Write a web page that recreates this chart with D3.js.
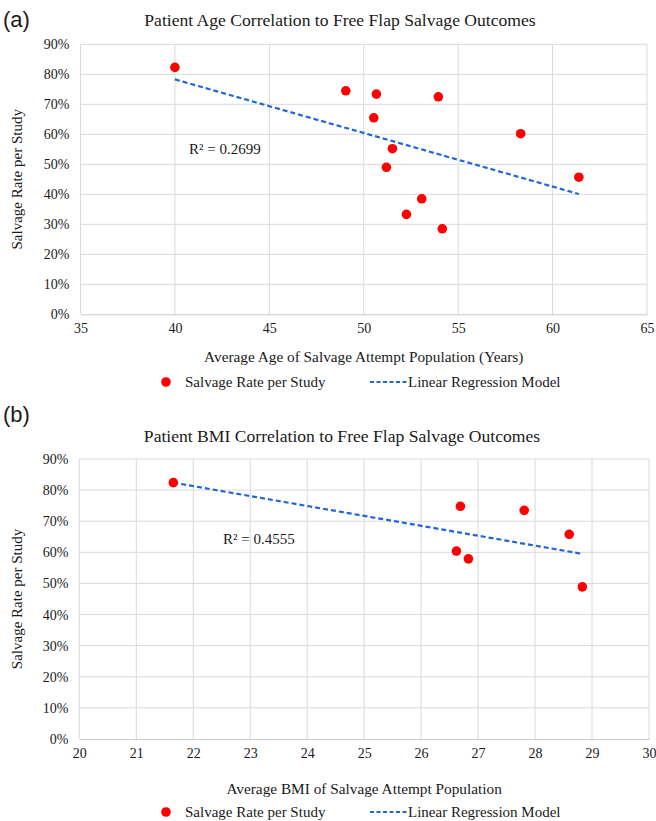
<!DOCTYPE html>
<html>
<head>
<meta charset="utf-8">
<script src="https://cdn.jsdelivr.net/npm/d3@7"></script>
<style>
  html, body { margin: 0; padding: 0; background: #fff; }
  svg { display: block; }
</style>
</head>
<body>
<svg id="chart" width="656" height="821"></svg>
<script>
// ---- Data ----
const yTicks = [0, 0.1, 0.2, 0.3, 0.4, 0.5, 0.6, 0.7, 0.8, 0.9];

const ageTicks = [35, 40, 45, 50, 55, 60, 65];
const ageX = [40.0, 49.05, 50.67, 53.95, 50.53, 51.52, 51.2, 53.07, 52.26, 54.16, 58.31, 61.39];
const ageY = [0.823, 0.745, 0.734, 0.725, 0.655, 0.552, 0.490, 0.385, 0.333, 0.285, 0.602, 0.457];
const ageTrendX = [40.0, 61.39];
const ageTrendY = [0.783, 0.401];
const ageR2 = "R² = 0.2699";

const bmiTicks = [20, 21, 22, 23, 24, 25, 26, 27, 28, 29, 30];
const bmiX = [21.65, 26.69, 27.81, 28.6, 26.62, 26.83, 28.83];
const bmiY = [0.824, 0.748, 0.735, 0.658, 0.604, 0.579, 0.489];
const bmiTrendX = [21.65, 28.83];
const bmiTrendY = [0.824, 0.595];
const bmiR2 = "R² = 0.4555";

const svg = d3.select("#chart");
const serif = '"Liberation Serif", "Times New Roman", serif';
const sans = '"Liberation Sans", Arial, Helvetica, sans-serif';
const gridColor = "#d9d9d9";
const red = "#ff0000";
const blue = "#1f66d6";
const textColor = "#1a1a1a";

function drawChart(cfg) {
  const x = d3.scaleLinear().domain(cfg.xDomain).range([cfg.left, cfg.right]);
  const y = d3.scaleLinear().domain([0, 0.9]).range([cfg.bottom, cfg.top]);
  const g = svg.append("g");

  // panel letter
  g.append("text").attr("x", 3).attr("y", cfg.letterY)
    .attr("font-family", sans).attr("font-size", 22).attr("fill", textColor)
    .attr("dominant-baseline", "central").text(cfg.letter);

  // title
  g.append("text").attr("x", cfg.titleX).attr("y", cfg.titleY)
    .attr("text-anchor", "middle").attr("dominant-baseline", "central")
    .attr("font-family", serif).attr("font-size", 17.6).attr("fill", textColor)
    .text(cfg.title);

  // gridlines
  g.append("g").selectAll("line").data(yTicks.slice(1)).join("line")
    .attr("x1", cfg.left).attr("x2", cfg.right)
    .attr("y1", d => y(d)).attr("y2", d => y(d))
    .attr("stroke", gridColor).attr("stroke-width", 1);
  g.append("g").selectAll("line").data(cfg.xTicks).join("line")
    .attr("x1", d => x(d)).attr("x2", d => x(d))
    .attr("y1", cfg.top).attr("y2", cfg.bottom)
    .attr("stroke", gridColor).attr("stroke-width", 1);

  // axes
  const yAxis = g.append("g").attr("transform", `translate(${cfg.left},0)`)
    .call(d3.axisLeft(y).tickValues(yTicks).tickFormat(d3.format(".0%")).tickSize(0).tickPadding(11));
  yAxis.select(".domain").remove();
  yAxis.selectAll(".tick text")
    .style("font-family", serif).style("font-size", "14px").attr("fill", textColor);

  const xAxis = g.append("g").attr("transform", `translate(0,${cfg.bottom})`)
    .call(d3.axisBottom(x).tickValues(cfg.xTicks).tickFormat(d3.format("d")).tickSize(0).tickPadding(9));
  xAxis.select(".domain").attr("stroke", "#c8c8c8");
  xAxis.selectAll(".tick text")
    .style("font-family", serif).style("font-size", "14px").attr("fill", textColor);

  // axis titles
  g.append("text").attr("x", (cfg.left + cfg.right) / 2).attr("y", cfg.xTitleY)
    .attr("text-anchor", "middle").attr("dominant-baseline", "central")
    .attr("font-family", serif).attr("font-size", 15.3).attr("fill", textColor)
    .text(cfg.xTitle);
  g.append("text")
    .attr("transform", `translate(17,${(cfg.top + cfg.bottom) / 2}) rotate(-90)`)
    .attr("text-anchor", "middle").attr("dominant-baseline", "central")
    .attr("font-family", serif).attr("font-size", 15).attr("fill", textColor)
    .text("Salvage Rate per Study");

  // trend line
  const tr = cfg.trendX.map((d, i) => [d, cfg.trendY[i]]);
  g.append("path").datum(tr)
    .attr("d", d3.line().x(d => x(d[0])).y(d => y(d[1])))
    .attr("fill", "none").attr("stroke", blue).attr("stroke-width", 2.2)
    .attr("stroke-dasharray", "5,3");

  // points
  const pts = cfg.xs.map((d, i) => [d, cfg.ys[i]]);
  g.append("g").selectAll("circle").data(pts).join("circle")
    .attr("cx", d => x(d[0])).attr("cy", d => y(d[1])).attr("r", 4.8)
    .attr("fill", red);

  // R2 label
  g.append("text").attr("x", cfg.r2X).attr("y", cfg.r2Y)
    .attr("dominant-baseline", "central")
    .attr("font-family", serif).attr("font-size", 15).attr("fill", textColor)
    .text(cfg.r2);

  // legend
  const ly = cfg.legendY;
  g.append("circle").attr("cx", 166).attr("cy", ly).attr("r", 4.8).attr("fill", red);
  g.append("text").attr("x", 185).attr("y", ly).attr("dominant-baseline", "central")
    .attr("font-family", serif).attr("font-size", 15).attr("fill", textColor)
    .text("Salvage Rate per Study");
  g.append("line").attr("x1", 370).attr("x2", 407).attr("y1", ly).attr("y2", ly)
    .attr("stroke", blue).attr("stroke-width", 2).attr("stroke-dasharray", "4,2.5");
  g.append("text").attr("x", 408).attr("y", ly).attr("dominant-baseline", "central")
    .attr("font-family", serif).attr("font-size", 15).attr("fill", textColor)
    .text("Linear Regression Model");
}

drawChart({
  letter: "(a)", letterY: 19,
  title: "Patient Age Correlation to Free Flap Salvage Outcomes", titleX: 340, titleY: 20,
  xDomain: [35, 65], xTicks: ageTicks,
  left: 80.5, right: 647, top: 44.3, bottom: 314.3,
  xs: ageX, ys: ageY, trendX: ageTrendX, trendY: ageTrendY,
  r2: ageR2, r2X: 189, r2Y: 149,
  xTitle: "Average Age of Salvage Attempt Population (Years)", xTitleY: 356,
  legendY: 382
});

drawChart({
  letter: "(b)", letterY: 414,
  title: "Patient BMI Correlation to Free Flap Salvage Outcomes", titleX: 342, titleY: 436,
  xDomain: [20, 30], xTicks: bmiTicks,
  left: 79.3, right: 649, top: 459, bottom: 739,
  xs: bmiX, ys: bmiY, trendX: bmiTrendX, trendY: bmiTrendY,
  r2: bmiR2, r2X: 223, r2Y: 539,
  xTitle: "Average BMI of Salvage Attempt Population", xTitleY: 788,
  legendY: 812
});
</script>
</body>
</html>
